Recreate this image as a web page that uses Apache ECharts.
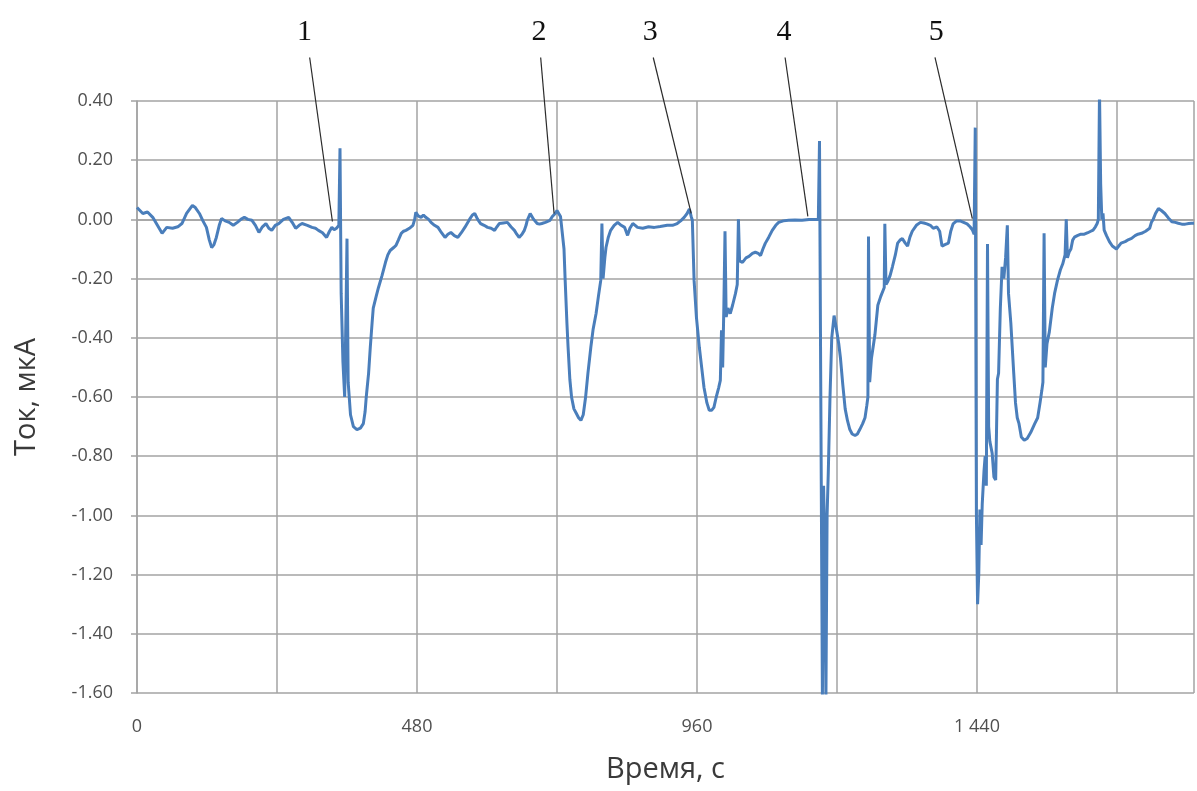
<!DOCTYPE html>
<html>
<head>
<meta charset="utf-8">
<script src="https://cdn.jsdelivr.net/npm/echarts@6/dist/echarts.min.js"></script>
<style>
html,body{margin:0;padding:0;background:#fff;}
#chart{width:1197px;height:791px;}
</style>
</head>
<body>
<div id="chart"></div>
<script>
// Time, s
const timeS = [
0,2,10,18,27,35,43,51,61,70,77,85,95,100,107,113,119,124,128,132,136,141,145,151,158,165,172,178,184,190,197,203,209,215,221,226,231,237,243,251,260,266,272,278,283,292,300,306,311,318,325,330,334,338,342,346,
348,350,353,356,358,360,362,366,371,377,383,388,391,393,397,400,403,405,410,414,420,426,430,434,440,444,448,453,457,461,467,473,476,478,482,487,491,495,500,504,510,516,522,528,533,538,544,550,556,562,570,575,579,584,589,595,601,607,613,617,621,628,635,641,647,651,655,660,664,667,669,672,674,680,686,690,694,700,708,712,717,720,723,726,729,
732,734,737,739,742,745,749,753,757,761,765,769,773,778,782,787,791,795,797,799,802,804,808,812,818,824,830,836,841,845,850,854,858,867,877,887,897,909,918,926,932,938,943,947,950,952,
955,959,964,968,972,977,981,985,989,993,997,1000,1002,1004,1006,1008,1010,1013,1017,1021,1026,1029,1031,1033,1038,1044,1049,1055,1060,1065,1069,1073,1077,1083,1089,1095,1100,1108,1117,1128,1140,1152,1163,1168,
1170,1172,1175,1177,1179,1181,1183,1185,1188,1191,1195,1199,1203,1206,1210,1214,1218,1222,1226,1231,1235,1239,1244,1248,1251,1253,1254,1256,1259,1262,1265,1270,1275,1279,1281,1282,1284,1287,1291,1295,1300,1304,1308,1312,1317,1321,1325,1329,1336,1343,1349,1354,1360,1365,1371,1376,1380,1385,1391,1395,1399,1405,1411,1417,1423,1428,1432,1435,
1437,1439,1441,1443,1445,1447,1449,1452,1454,1456,1458,1460,1462,1466,1469,1472,1475,1477,1480,1483,1486,1489,1492,1494,1498,1503,1506,1509,1512,1516,1521,1526,1532,1539,1544,1548,1551,1553,1555,1557,1560,1564,1569,1573,1578,1583,1587,1591,1593,1595,1598,1601,1604,1607,1612,1618,1624,1630,1635,1639,1643,1646,1648,
1650,1652,1654,1656,1658,1662,1667,1672,1679,1683,1687,1694,1700,1705,1711,1716,1722,1729,1736,1739,1742,1746,1751,1756,1762,1768,1774,1780,1785,1791,1797,1803,1808,1812
];
// Current, µA
const currentUA = [
0.04,0.037,0.02,0.025,0.007,-0.02,-0.047,-0.027,-0.03,-0.025,-0.014,0.02,0.047,0.04,0.02,-0.005,-0.027,-0.07,-0.095,-0.085,-0.061,-0.02,0.003,-0.005,-0.01,-0.02,-0.01,0.0,0.007,0.0,-0.003,-0.02,-0.044,-0.025,-0.014,-0.03,-0.037,-0.02,-0.014,0.0,0.007,-0.01,-0.03,-0.02,-0.014,-0.02,-0.027,-0.03,-0.037,-0.045,-0.061,-0.04,-0.027,-0.035,-0.03,-0.02,
0.24,-0.25,-0.48,-0.6,-0.35,-0.065,-0.55,-0.66,-0.7,-0.71,-0.705,-0.69,-0.65,-0.6,-0.52,-0.43,-0.35,-0.3,-0.26,-0.23,-0.19,-0.145,-0.12,-0.105,-0.095,-0.088,-0.07,-0.047,-0.04,-0.037,-0.03,-0.02,0.0,0.024,0.012,0.007,0.015,0.007,0.0,-0.01,-0.02,-0.027,-0.045,-0.061,-0.05,-0.044,-0.055,-0.061,-0.045,-0.027,0.0,0.015,0.02,0.0,-0.014,-0.02,-0.027,-0.03,-0.037,-0.025,-0.014,-0.012,-0.01,-0.025,-0.037,-0.05,-0.061,-0.05,-0.037,-0.02,-0.003,0.01,0.02,0.0,-0.014,-0.016,-0.014,-0.01,-0.003,0.01,0.02,0.03,0.035,0.01,0.007,
-0.1,-0.206,-0.35,-0.432,-0.54,-0.601,-0.64,-0.655,-0.67,-0.679,-0.66,-0.601,-0.52,-0.432,-0.37,-0.318,-0.26,-0.206,-0.014,-0.2,-0.13,-0.095,-0.06,-0.037,-0.02,-0.01,-0.02,-0.027,-0.054,-0.03,-0.014,-0.02,-0.027,-0.03,-0.025,-0.027,-0.024,-0.02,-0.02,-0.014,-0.005,0.007,0.02,0.035,0.01,-0.003,
-0.206,-0.33,-0.432,-0.5,-0.568,-0.62,-0.645,-0.645,-0.635,-0.6,-0.57,-0.544,-0.375,-0.5,-0.3,-0.04,-0.33,-0.3,-0.318,-0.29,-0.25,-0.22,0.0,-0.14,-0.145,-0.13,-0.125,-0.115,-0.111,-0.115,-0.122,-0.1,-0.081,-0.06,-0.037,-0.02,-0.01,-0.005,-0.003,-0.002,-0.003,0.0,0.0,0.0,
0.265,-0.51,-1.62,-0.9,-1.1,-1.62,-1.0,-0.86,-0.6,-0.4,-0.325,-0.37,-0.42,-0.47,-0.56,-0.64,-0.68,-0.71,-0.725,-0.73,-0.725,-0.71,-0.69,-0.67,-0.63,-0.6,-0.058,-0.55,-0.47,-0.43,-0.39,-0.29,-0.26,-0.24,-0.23,-0.015,-0.22,-0.21,-0.19,-0.16,-0.12,-0.08,-0.07,-0.065,-0.08,-0.09,-0.06,-0.04,-0.02,-0.01,-0.012,-0.015,-0.02,-0.03,-0.025,-0.04,-0.09,-0.085,-0.08,-0.04,-0.015,-0.005,-0.005,-0.01,-0.015,-0.025,-0.035,-0.05,
0.31,-1.0,-1.3,-1.2,-0.98,-1.1,-0.96,-0.85,-0.8,-0.9,-0.083,-0.7,-0.75,-0.79,-0.87,-0.88,-0.54,-0.52,-0.3,-0.16,-0.2,-0.13,-0.02,-0.25,-0.35,-0.52,-0.62,-0.67,-0.69,-0.735,-0.746,-0.74,-0.72,-0.69,-0.67,-0.62,-0.58,-0.55,-0.047,-0.5,-0.42,-0.38,-0.3,-0.25,-0.205,-0.17,-0.15,-0.12,0.0,-0.13,-0.11,-0.1,-0.07,-0.06,-0.055,-0.05,-0.05,-0.045,-0.04,-0.036,-0.025,-0.014,0.0,
0.43,0.12,0.0,0.02,-0.036,-0.055,-0.075,-0.09,-0.1,-0.09,-0.08,-0.075,-0.068,-0.064,-0.055,-0.05,-0.047,-0.04,-0.03,-0.01,0.0,0.02,0.037,0.03,0.02,0.005,-0.008,-0.01,-0.013,-0.016,-0.016,-0.014,-0.013,-0.013
];
// Axis ticks
const xTickStep = 240;
const xLabelStep = 480;
const xMin = 0, xMax = 1812;
const yMin = -1.6, yMax = 0.4, yStep = 0.2;

// Annotations (data coordinates): label, label anchor, leader start, leader end
const annLabels = ['1','2','3','4','5'];
const annLabelT = [287, 689, 880, 1109, 1370];
const annLabelV = [0.632, 0.632, 0.632, 0.632, 0.632];
const annStartT = [296, 692, 885, 1111, 1368];
const annStartV = [0.547, 0.547, 0.547, 0.547, 0.547];
const annEndT = [335, 715, 950, 1150, 1432];
const annEndV = [-0.007, 0.02, 0.02, 0.01, 0.003];

const seriesData = timeS.map((t, i) => [t, currentUA[i]]);

const chart = echarts.init(document.getElementById('chart'), null, {renderer: 'canvas'});
const gridColor = '#a3a3a3';
const option = {
  animation: false,
  backgroundColor: '#fff',
  grid: {left: 137, right: 0, top: 101, bottom: 98, containLabel: false},
  xAxis: {
    type: 'value', min: xMin, max: xMax, interval: xTickStep,
    name: 'Время, с', nameLocation: 'middle', nameGap: 62,
    nameTextStyle: {fontFamily: 'Open Sans', fontSize: 29, color: '#3a3a3a'},
    axisLine: {show: true, lineStyle: {color: gridColor, width: 1.5}},
    axisTick: {show: false},
    splitLine: {show: true, lineStyle: {color: gridColor, width: 1.5}},
    axisLabel: {
      margin: 25, fontFamily: 'Open Sans', fontSize: 18, color: '#505050',
      formatter: v => (v % xLabelStep === 0) ? String(v).replace(/\B(?=(\d{3})+(?!\d))/g, ' ') : ''
    }
  },
  yAxis: {
    type: 'value', min: yMin, max: yMax, interval: yStep,
    name: 'Ток, мкА', nameLocation: 'middle', nameGap: 96,
    nameTextStyle: {fontFamily: 'Open Sans', fontSize: 29, color: '#3a3a3a'},
    axisLine: {show: true, lineStyle: {color: gridColor, width: 1.5}},
    axisTick: {show: true, length: 6, lineStyle: {color: gridColor, width: 1.5}},
    splitLine: {show: true, lineStyle: {color: gridColor, width: 1.5}},
    axisLabel: {
      margin: 24, fontFamily: 'Open Sans', fontSize: 18, color: '#505050',
      formatter: v => v.toFixed(2)
    }
  },
  series: [{
    type: 'line', data: seriesData, showSymbol: false, symbol: 'none',
    clip: true,
    lineStyle: {color: '#4a7ebb', width: 3},
    itemStyle: {color: '#4a7ebb'}
  }]
};
chart.setOption(option);

const graphics = [];
for (let i = 0; i < annLabels.length; i++) {
  const p0 = chart.convertToPixel({gridIndex: 0}, [annStartT[i], annStartV[i]]);
  const p1 = chart.convertToPixel({gridIndex: 0}, [annEndT[i], annEndV[i]]);
  const pl = chart.convertToPixel({gridIndex: 0}, [annLabelT[i], annLabelV[i]]);
  graphics.push({
    type: 'line', z: 100,
    shape: {x1: p0[0], y1: p0[1], x2: p1[0], y2: p1[1]},
    style: {stroke: '#2b2b2b', lineWidth: 1.2}
  });
  graphics.push({
    type: 'text', z: 100, x: pl[0], y: pl[1],
    style: {text: annLabels[i], fill: '#111', font: '30px "Liberation Serif", "DejaVu Serif", serif',
            textAlign: 'center', textVerticalAlign: 'middle'}
  });
}
chart.setOption({graphic: graphics});
</script>
</body>
</html>
